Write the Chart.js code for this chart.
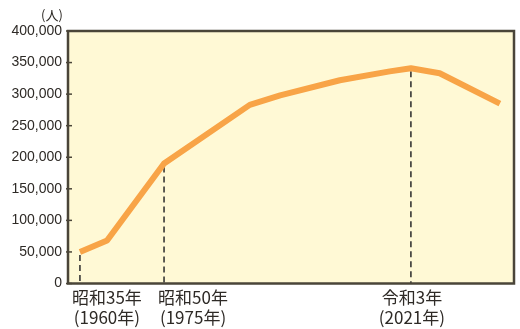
<!DOCTYPE html>
<html>
<head>
<meta charset="utf-8">
<script src="https://cdn.jsdelivr.net/npm/chart.js@4"></script>
<style>
  html, body { margin: 0; padding: 0; background: #ffffff; }
  #wrap { width: 520px; height: 329px; position: relative; }
</style>
</head>
<body>
<div id="wrap"><canvas id="c" width="520" height="329"></canvas></div>
<script>
// ---- data ----
const years = [1960, 1965, 1975.5, 1991.3, 1996.9, 2007.9, 2017.1, 2021, 2026.3, 2037.4];
const people = [50000, 68000, 190000, 283000, 298000, 322000, 336000, 341000, 333000, 285000];
const markedIndex = [0, 2, 7];
const markLabels = [["昭和35年", "(1960年)"], ["昭和50年", "(1975年)"], ["令和3年", "(2021年)"]];
const yTicks = [0, 50000, 100000, 150000, 200000, 250000, 300000, 350000, 400000];
const unitLabel = "(人)";

// ---- styles ----
const BORDER = '#4a4538';
const TEXT = '#2e2a26';
const labelShift = [27, 29, 1];

const plotDeco = {
  id: 'plotDeco',
  beforeDatasetsDraw(chart) {
    const { ctx, chartArea: a, scales } = chart;
    ctx.save();
    ctx.fillStyle = '#FFF9D5';
    ctx.fillRect(a.left, a.top, a.right - a.left, a.bottom - a.top);
    // dashed drop lines
    ctx.strokeStyle = '#2a2a2a';
    ctx.lineWidth = 1.5;
    ctx.setLineDash([6, 4]);
    markedIndex.forEach(i => {
      const x = scales.x.getPixelForValue(years[i]);
      const y = scales.y.getPixelForValue(people[i]);
      ctx.beginPath();
      ctx.moveTo(x, y + 3);
      ctx.lineTo(x, a.bottom);
      ctx.stroke();
    });
    ctx.restore();
  },
  afterDraw(chart) {
    const { ctx, chartArea: a, scales } = chart;
    ctx.save();
    ctx.strokeStyle = BORDER;
    ctx.lineWidth = 2.5;
    ctx.strokeRect(a.left, a.top, a.right - a.left, a.bottom - a.top);
    // inward tick marks
    ctx.lineWidth = 1.5;
    yTicks.forEach(v => {
      const y = scales.y.getPixelForValue(v);
      ctx.beginPath();
      ctx.moveTo(a.left - 2, y);
      ctx.lineTo(a.left + 4, y);
      ctx.stroke();
    });
    // unit label
    ctx.fillStyle = TEXT;
    ctx.font = '13px "Noto Sans CJK JP"';
    ctx.textAlign = 'center';
    ctx.textBaseline = 'middle';
    ctx.fillText(unitLabel, 52, 15);
    // x labels
    ctx.font = '17px "Noto Sans CJK JP"';
    markedIndex.forEach((i, k) => {
      const x = scales.x.getPixelForValue(years[i]) + labelShift[k];
      ctx.fillText(markLabels[k][0], x, a.bottom + 14);
      ctx.fillText(markLabels[k][1], x, a.bottom + 34);
    });
    ctx.restore();
  }
};

new Chart(document.getElementById('c'), {
  type: 'line',
  data: {
    datasets: [{
      data: years.map((y, i) => ({ x: y, y: people[i] })),
      borderColor: '#F8A447',
      borderWidth: 6,
      pointRadius: 0,
      tension: 0,
      borderJoinStyle: 'round',
      borderCapStyle: 'butt',
      fill: false
    }]
  },
  options: {
    responsive: false,
    animation: false,
    layout: { padding: { left: 0, right: 6, top: 31, bottom: 45.5 } },
    plugins: { legend: { display: false }, tooltip: { enabled: false } },
    scales: {
      x: { type: 'linear', display: false, min: 1957.8, max: 2040 },
      y: {
        min: 0, max: 400000,
        afterBuildTicks: s => { s.ticks = yTicks.map(v => ({ value: v })); },
        afterFit: s => { s.width = 68; },
        grid: { display: false, drawTicks: false },
        border: { display: false },
        ticks: {
          padding: 6,
          color: TEXT,
          font: { family: '"Liberation Sans", Arial, sans-serif', size: 14 },
          callback: v => v.toLocaleString('en-US')
        }
      }
    }
  },
  plugins: [plotDeco]
});
</script>
</body>
</html>
